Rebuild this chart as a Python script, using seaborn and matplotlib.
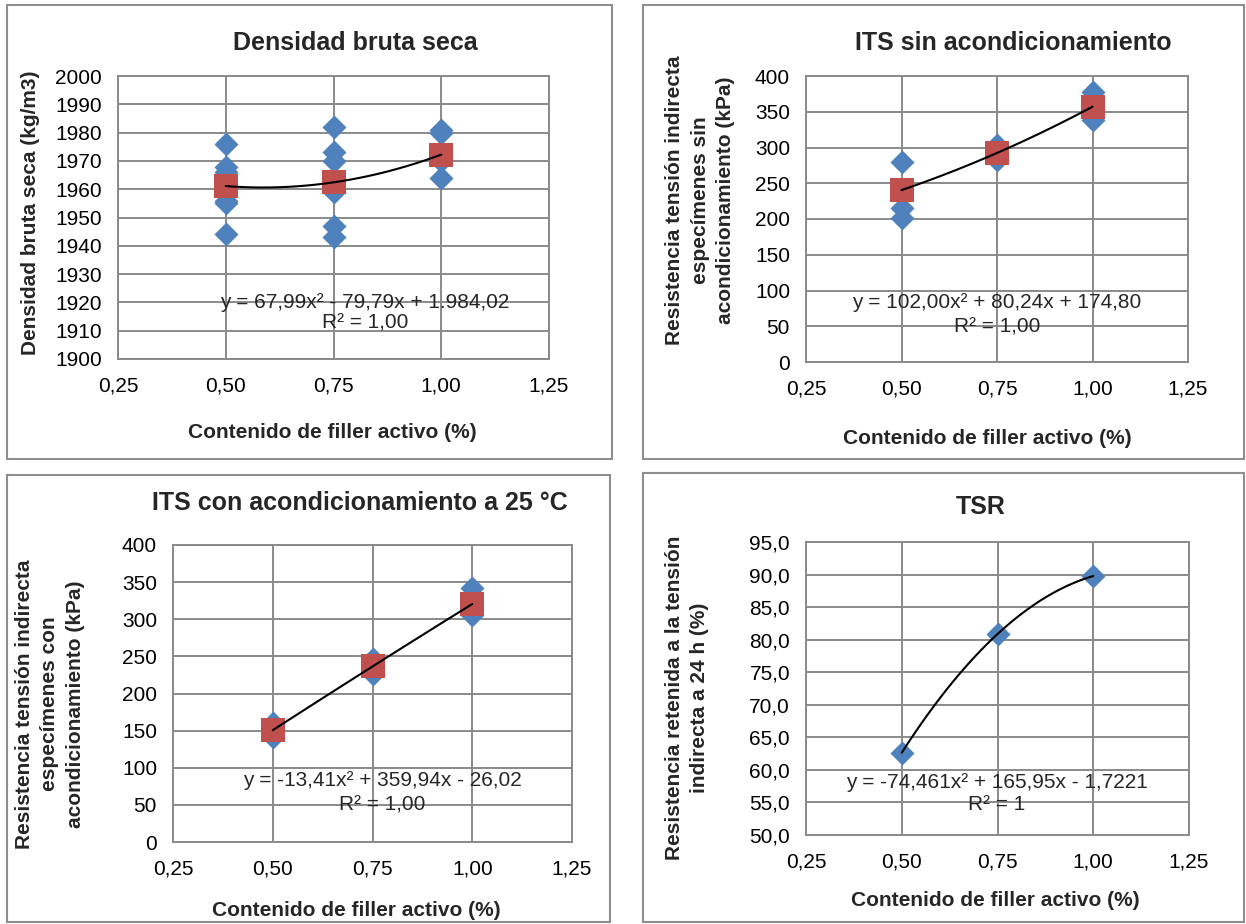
import numpy as np
import pandas as pd
import matplotlib
matplotlib.use("Agg")
import matplotlib.pyplot as plt
from matplotlib.patches import Rectangle
from matplotlib.ticker import FuncFormatter, MultipleLocator
import seaborn as sns

# ---------------- data ----------------
filler = [0.50, 0.75, 1.00]

# Densidad bruta seca (kg/m3): individual specimens and averages
dens_x = [0.50] * 6 + [0.75] * 6 + [1.00] * 4
dens_y = [1976, 1968, 1966, 1956, 1955, 1944,
          1982, 1973, 1970, 1959, 1947, 1943,
          1981, 1980, 1970, 1964]
dens_mean = [1961.12, 1962.42, 1972.22]

# ITS sin acondicionamiento (kPa)
its_dry_x = [0.50, 0.50, 0.50, 0.75, 0.75, 1.00, 1.00]
its_dry_y = [280, 216, 202, 303, 283, 378, 338]
its_dry_mean = [240.42, 292.36, 357.04]

# ITS con acondicionamiento a 25 °C (kPa)
its_wet_x = [0.50, 0.50, 0.75, 0.75, 1.00, 1.00]
its_wet_y = [160, 142, 247, 226, 342, 306]
its_wet_mean = [150.60, 236.39, 320.51]

# TSR (%)
tsr = [62.64, 80.86, 89.77]

titles = ["Densidad bruta seca", "ITS sin acondicionamiento",
          "ITS con acondicionamiento a 25 °C", "TSR"]
ylabels = ["Densidad bruta seca (kg/m3)",
           "Resistencia tensión indirecta\nespecímenes sin\nacondicionamiento (kPa)",
           "Resistencia tensión indirecta\nespecímenes con\nacondicionamiento (kPa)",
           "Resistencia retenida a la tensión\nindirecta a 24 h (%)"]
xlabel = "Contenido de filler activo (%)"
equations = ["y = 67,99x² - 79,79x + 1.984,02",
             "y = 102,00x² + 80,24x + 174,80",
             "y = -13,41x² + 359,94x - 26,02",
             "y = -74,461x² + 165,95x - 1,7221"]
r2_labels = ["R² = 1,00", "R² = 1,00", "R² = 1,00", "R² = 1"]

# ---------------- style ----------------
sns.set_theme(style="white")
plt.rcParams["font.family"] = ["Liberation Sans", "DejaVu Sans"]

BLUE = "#4F81BD"
RED = "#C0504D"
GRID = "#8A8A8A"

W, H = 1246, 924
fig = plt.figure(figsize=(W / 100, H / 100), dpi=100)
fig.patch.set_facecolor("white")


def fx(x):
    return x / W


def fy(y):
    return 1 - y / H


def add_axes_px(l, t, r, b):
    return fig.add_axes([l / W, 1 - b / H, (r - l) / W, (b - t) / H])


def comma_fmt(decimals):
    return FuncFormatter(lambda v, p: f"{v:.{decimals}f}".replace(".", ","))


def style_axes(ax, ylim, ystep, ydec):
    ax.set_xlim(0.25, 1.25)
    ax.set_ylim(*ylim)
    ax.xaxis.set_major_locator(MultipleLocator(0.25))
    ax.yaxis.set_major_locator(MultipleLocator(ystep))
    ax.xaxis.set_major_formatter(comma_fmt(2))
    ax.yaxis.set_major_formatter(comma_fmt(ydec))
    ax.grid(True, color=GRID, linewidth=1.4)
    ax.set_axisbelow(True)
    for s in ax.spines.values():
        s.set_color(GRID)
        s.set_linewidth(1.4)
    ax.tick_params(axis="both", direction="out", length=4.5, width=1.4,
                   color=GRID, labelsize=15, labelcolor="black")
    ax.tick_params(axis="x", pad=8)
    ax.tick_params(axis="y", pad=7)
    ax.set_xlabel("")
    ax.set_ylabel("")


def trend(ax, xs, ys):
    coef = np.polyfit(xs, ys, 2)
    xx = np.linspace(min(xs), max(xs), 100)
    curve = pd.DataFrame({"x": xx, "y": np.polyval(coef, xx)})
    sns.lineplot(data=curve, x="x", y="y", ax=ax, color="black",
                 linewidth=1.5, zorder=5, legend=False)


def scatter(ax, xs, ys, marker, color, size, z):
    sns.scatterplot(x=xs, y=ys, ax=ax, marker=marker, color=color, s=size,
                    linewidth=0, zorder=z, legend=False)


# panel frames
frames = [(7, 5, 612, 459), (643, 5, 1244, 459),
          (7, 475, 610, 922), (643, 473, 1244, 922)]
for l, t, r, b in frames:
    fig.add_artist(Rectangle((fx(l), fy(b)), (r - l) / W, (b - t) / H,
                             transform=fig.transFigure, fill=False,
                             edgecolor="#8E8E8E", linewidth=1.5))

# plot areas (pixels: left, top, right, bottom)
boxes = [(118, 76, 549, 359), (806, 76, 1188, 362),
         (173, 545, 572, 842), (806, 542, 1189, 835)]
axes = [add_axes_px(*b) for b in boxes]

D_SIZE = 150
S_SIZE = 280

# Densidad bruta seca
ax = axes[0]
scatter(ax, dens_x, dens_y, "D", BLUE, D_SIZE, 3)
scatter(ax, filler, dens_mean, "s", RED, S_SIZE, 4)
trend(ax, filler, dens_mean)
style_axes(ax, (1900, 2000), 10, 0)

# ITS sin acondicionamiento
ax = axes[1]
scatter(ax, its_dry_x, its_dry_y, "D", BLUE, D_SIZE, 3)
scatter(ax, filler, its_dry_mean, "s", RED, S_SIZE, 4)
trend(ax, filler, its_dry_mean)
style_axes(ax, (0, 400), 50, 0)

# ITS con acondicionamiento
ax = axes[2]
scatter(ax, its_wet_x, its_wet_y, "D", BLUE, D_SIZE, 3)
scatter(ax, filler, its_wet_mean, "s", RED, S_SIZE, 4)
trend(ax, filler, its_wet_mean)
style_axes(ax, (0, 400), 50, 0)

# TSR
ax = axes[3]
scatter(ax, filler, tsr, "D", BLUE, D_SIZE, 3)
trend(ax, filler, tsr)
style_axes(ax, (50, 95), 5, 1)

# titles
title_pos = [(355, 43), (1013, 43), (360, 503), (981, 507)]
for (x, y), t in zip(title_pos, titles):
    fig.text(fx(x), fy(y), t, ha="center", va="center",
             fontsize=18, fontweight="bold")

# y-axis labels
ylab_pos = [(31, 213), (700, 200), (50, 704), (687, 698)]
for (x, y), t in zip(ylab_pos, ylabels):
    fig.text(fx(x), fy(y), t, ha="center", va="center", rotation=90,
             multialignment="center", fontsize=15, fontweight="bold",
             linespacing=1.45)

# x-axis labels
xlab_pos = [(332, 433), (987, 438), (356, 910), (995, 900)]
for x, y in xlab_pos:
    fig.text(fx(x), fy(y), xlabel, ha="center", va="center",
             fontsize=15, fontweight="bold")

# trendline equations
eq_pos = [(365, 302, 323), (997, 302, 327), (382, 780, 805), (997, 782, 805)]
for (x, y1, y2), eq, r2 in zip(eq_pos, equations, r2_labels):
    fig.text(fx(x), fy(y1), eq, ha="center", va="center", fontsize=15)
    fig.text(fx(x), fy(y2), r2, ha="center", va="center", fontsize=15)

fig.savefig("out.png", dpi=100, facecolor="white")
